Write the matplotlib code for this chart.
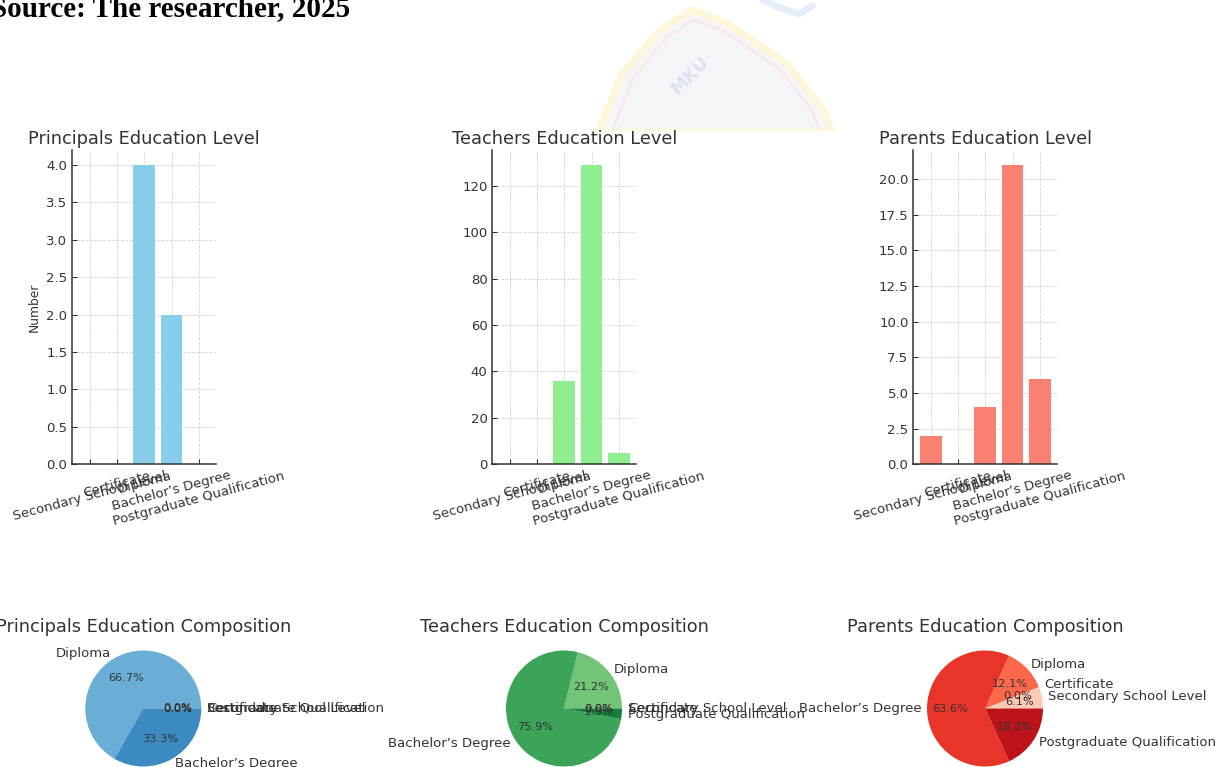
import numpy as np
import matplotlib
matplotlib.use("Agg")
import matplotlib.pyplot as plt
from matplotlib.patches import Polygon
from matplotlib.lines import Line2D

# ---------------- data ----------------
categories = ["Secondary School Level", "Certificate", "Diploma",
              "Bachelor\u2019s Degree", "Postgraduate Qualification"]
principals = [0, 0, 4, 2, 0]
teachers = [0, 0, 36, 129, 5]
parents = [2, 0, 4, 21, 6]

bar_titles = ["Principals Education Level", "Teachers Education Level",
              "Parents Education Level"]
pie_titles = ["Principals Education Composition", "Teachers Education Composition",
              "Parents Education Composition"]
source_text = "Source: The researcher, 2025"

# ---------------- style ----------------
TXT = "#333333"
plt.rcParams.update({
    "font.family": ["DejaVu Sans"],
    "text.color": TXT,
    "axes.labelcolor": TXT,
    "xtick.color": TXT,
    "ytick.color": TXT,
    "axes.edgecolor": TXT,
})

W, H = 1223, 767
fig = plt.figure(figsize=(W / 100, H / 100), dpi=100)

# faint watermark (document background behind the chart)
wm = Polygon([(598, 767 - 132), (622, 767 - 75), (660, 767 - 30), (692, 767 - 10),
              (725, 767 - 22), (785, 767 - 62), (822, 767 - 108), (832, 767 - 132)],
             closed=True, transform=None, facecolor="#f5f6fa", edgecolor="#fdf6d8",
             linewidth=5, zorder=-3)
fig.patches.append(wm)
wm2 = Polygon([(612, 767 - 132), (632, 767 - 80), (666, 767 - 38), (693, 767 - 20),
               (722, 767 - 30), (778, 767 - 68), (812, 767 - 110), (820, 767 - 132)],
              closed=True, transform=None, facecolor="none", edgecolor="#fae6e6",
              linewidth=1.5, zorder=-3)
fig.patches.append(wm2)
wm3 = Line2D([762, 780, 800, 812], [767, 767 - 8, 767 - 14, 767 - 6],
             transform=None, color="#e3eef9", linewidth=5, zorder=-3,
             solid_capstyle="round")
fig.lines.append(wm3)
fig.text(690 / W, 1 - 75 / H, "MKU", rotation=45, fontsize=13, fontweight="bold",
         color="#dde2ec", ha="center", va="center", zorder=-3)

# white chart background covering the region below the watermark
bg = plt.Rectangle((0, 0), W, H - 131, transform=None, facecolor="white",
                   edgecolor="none", zorder=-2)
fig.patches.append(bg)

fig.text(-9 / W, 1 - 16 / H, source_text, fontfamily="Liberation Serif",
         fontweight="bold", fontsize=21, color="black", va="baseline", ha="left")

series = [principals, teachers, parents]
bar_colors = ["skyblue", "lightgreen", "salmon"]
cmaps = [plt.cm.Blues, plt.cm.Greens, plt.cm.Reds]

bar_left_px = [72.3, 492.3, 913.3]
bar_w_px = 144.0
bar_top_px, bar_bot_px = 150.0, 464.3

pie_cx_px = [143.3, 564.0, 985.0]
pie_cy_px = 708.5
pie_size_px = 145.0

x = np.arange(len(categories))
for i in range(3):
    ax = fig.add_axes([bar_left_px[i] / W, (H - bar_bot_px) / H,
                       bar_w_px / W, (bar_bot_px - bar_top_px) / H])
    ax.patch.set_alpha(0)
    ax.set_axisbelow(True)
    ax.bar(x, series[i], color=bar_colors[i], width=0.8)
    ax.set_xticks(x)
    ax.set_xticklabels(categories, rotation=15, fontsize=9.5)
    ax.tick_params(axis="both", direction="in", length=3.5, width=0.8, labelsize=9.5)
    ax.grid(True, linestyle="--", color="#d4d4d4", linewidth=0.6)
    for s in ["top", "right"]:
        ax.spines[s].set_visible(False)
    for s in ["left", "bottom"]:
        ax.spines[s].set_linewidth(1.1)
    ax.set_title(bar_titles[i], fontsize=12.8, pad=4, color=TXT)
    if i == 0:
        ax.set_ylabel("Number", fontsize=8.8)

    pax = fig.add_axes([(pie_cx_px[i] - pie_size_px / 2) / W,
                        (H - pie_cy_px - pie_size_px / 2) / H,
                        pie_size_px / W, pie_size_px / H])
    cols = cmaps[i](np.linspace(0.2, 0.8, len(categories)))
    wedges, texts, autotexts = pax.pie(series[i], labels=categories, colors=cols,
                                       autopct="%1.1f%%",
                                       textprops={"fontsize": 9.5, "color": TXT})
    for t in autotexts:
        t.set_fontsize(8.2)
        t.set_color(TXT)
    pax.set_title(pie_titles[i], fontsize=12.8, pad=1, color=TXT)

fig.savefig("out.png", dpi=100)
